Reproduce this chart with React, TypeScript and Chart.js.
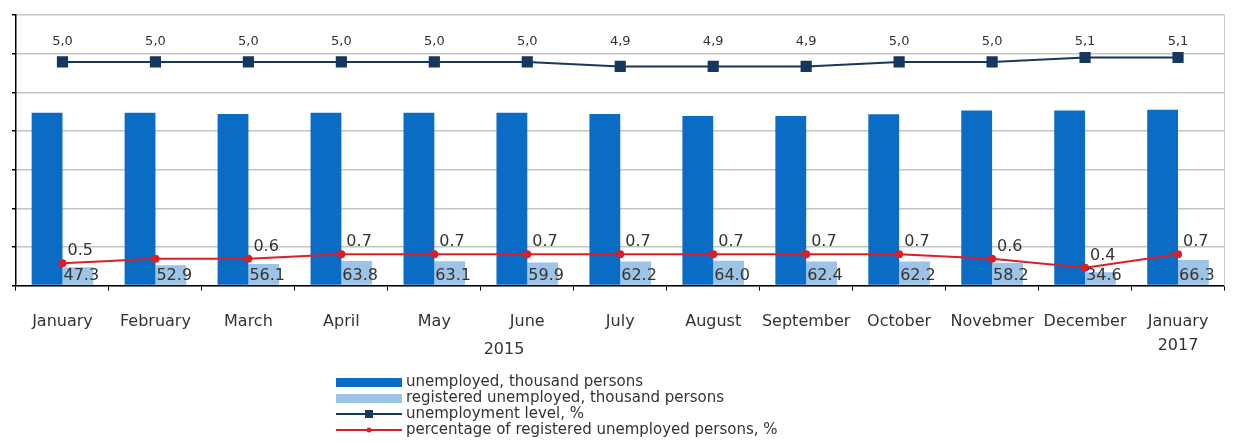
import React, { useEffect, useRef } from "react";
import { Chart, registerables } from "chart.js";

Chart.register(...registerables);

const categories: (string | string[])[] = [
  "January", "February", "March", "April", "May", "June", "July",
  "August", "September", "October", "Novebmer", "December", ["January", "2017"],
];
const yearLabel = "2015";

const unemployed = [447, 447, 444, 447, 447, 447, 444, 439, 439, 443, 453, 453, 455];
const registered = [47.3, 52.9, 56.1, 63.8, 63.1, 59.9, 62.2, 64.0, 62.4, 62.2, 58.2, 34.6, 66.3];
const unemploymentLevel = [5.0, 5.0, 5.0, 5.0, 5.0, 5.0, 4.9, 4.9, 4.9, 5.0, 5.0, 5.1, 5.1];
const registeredPct = [0.5, 0.6, 0.6, 0.7, 0.7, 0.7, 0.7, 0.7, 0.7, 0.7, 0.6, 0.4, 0.7];
const registeredPctHiddenLabels = [1];

const seriesNames = [
  "unemployed, thousand persons",
  "registered unemployed, thousand persons",
  "unemployment level, %",
  "percentage of registered unemployed persons, %",
];

const DARK = "#0A6CC4";
const LIGHT = "#9DC3E6";
const NAVY = "#17375E";
const RED = "#DC1E28";
const FONT = '"DejaVu Sans", Verdana, sans-serif';
const TEXT = "#333333";

const labelsPlugin = {
  id: "valueLabels",
  afterDatasetsDraw(chart: any) {
    const ctx = chart.ctx;
    ctx.save();
    ctx.fillStyle = TEXT;
    // registered bars labels
    const m1 = chart.getDatasetMeta(1);
    ctx.font = `16px ${FONT}`;
    ctx.textAlign = "left";
    ctx.textBaseline = "middle";
    m1.data.forEach((bar: any, i: number) => {
      const left = bar.x - bar.width / 2;
      ctx.fillText(registered[i].toFixed(1), left + 1, bar.base - 9.5);
    });
    // unemployment level labels (in a row above the line)
    const m2 = chart.getDatasetMeta(2);
    ctx.font = `13px ${FONT}`;
    ctx.textAlign = "center";
    const rowY = chart.chartArea.top + 27;
    m2.data.forEach((pt: any, i: number) => {
      ctx.fillText(unemploymentLevel[i].toFixed(1).replace(".", ","), pt.x, rowY);
    });
    // registered pct labels
    const m3 = chart.getDatasetMeta(3);
    ctx.font = `16px ${FONT}`;
    ctx.textAlign = "left";
    m3.data.forEach((pt: any, i: number) => {
      if (registeredPctHiddenLabels.includes(i)) return;
      ctx.fillText(registeredPct[i].toFixed(1), pt.x + 5, pt.y - 12);
    });
    ctx.restore();
  },
};

const extrasPlugin = {
  id: "extras",
  afterDraw(chart: any) {
    const ctx = chart.ctx;
    const xs = chart.scales.x;
    ctx.save();
    ctx.fillStyle = TEXT;
    ctx.font = `16px ${FONT}`;
    ctx.textAlign = "center";
    ctx.textBaseline = "middle";
    ctx.fillText(yearLabel, xs.getPixelForValue(4.75), 350);

    // legend
    ctx.font = `15px ${FONT}`;
    ctx.textAlign = "left";
    const x0 = 336;
    const x1 = 402;
    chart.data.datasets.forEach((ds: any, i: number) => {
      const y = 382 + i * 16;
      if (ds.type === "bar" || !ds.type) {
        ctx.fillStyle = ds.backgroundColor;
        ctx.fillRect(x0, y - 4, x1 - x0, 9);
      } else {
        ctx.strokeStyle = ds.borderColor;
        ctx.lineWidth = 2;
        ctx.beginPath();
        ctx.moveTo(x0, y);
        ctx.lineTo(x1, y);
        ctx.stroke();
        ctx.fillStyle = ds.pointBackgroundColor;
        const mx = (x0 + x1) / 2;
        if (ds.pointStyle === "rect") {
          ctx.fillRect(mx - 4, y - 4, 8, 8);
        } else {
          ctx.beginPath();
          ctx.arc(mx, y, 2.5, 0, Math.PI * 2);
          ctx.fill();
        }
      }
      ctx.fillStyle = TEXT;
      ctx.fillText(ds.label, 406, y);
    });
    ctx.restore();
  },
};

export default function App() {
  const ref = useRef<HTMLCanvasElement | null>(null);
  useEffect(() => {
    document.body.style.margin = "0";
    const canvas = ref.current;
    if (!canvas) return;
    const chart = new Chart(canvas, {
      type: "bar",
      data: {
        labels: categories,
        datasets: [
          {
            type: "bar",
            label: seriesNames[0],
            data: unemployed,
            backgroundColor: DARK,
            yAxisID: "y",
            order: 2,
          },
          {
            type: "bar",
            label: seriesNames[1],
            data: registered,
            backgroundColor: LIGHT,
            yAxisID: "y",
            order: 2,
          },
          {
            type: "line",
            label: seriesNames[2],
            data: unemploymentLevel,
            borderColor: NAVY,
            backgroundColor: NAVY,
            pointBackgroundColor: NAVY,
            pointBorderColor: NAVY,
            pointStyle: "rect",
            pointRadius: 6.5,
            borderWidth: 2,
            yAxisID: "y1",
            order: 1,
          },
          {
            type: "line",
            label: seriesNames[3],
            data: registeredPct,
            borderColor: RED,
            backgroundColor: RED,
            pointBackgroundColor: RED,
            pointBorderColor: RED,
            pointStyle: "circle",
            pointRadius: 3,
            borderWidth: 2,
            yAxisID: "y1",
            order: 0,
          },
        ] as any,
      },
      options: {
        responsive: false,
        animation: false,
        devicePixelRatio: 1,
        datasets: {
          bar: { categoryPercentage: 0.663, barPercentage: 1.0 },
        } as any,
        layout: { padding: { left: 12, right: 1, top: 15, bottom: 66 } },
        plugins: {
          legend: { display: false },
          tooltip: { enabled: false },
          title: { display: false },
        },
        scales: {
          x: {
            offset: true,
            grid: {
              display: true,
              drawOnChartArea: false,
              drawTicks: true,
              tickLength: 5,
              tickColor: "#000",
              offset: true,
            },
            border: { color: "#000", width: 1.5 },
            ticks: {
              color: TEXT,
              font: { family: FONT, size: 16, lineHeight: 1.45 },
              padding: 20,
              maxRotation: 0,
              autoSkip: false,
            },
          },
          y: {
            min: 0,
            max: 700,
            ticks: { display: false, stepSize: 100 },
            grid: {
              color: "#C4C4C4",
              tickColor: "#000",
              tickLength: 4,
              lineWidth: 1.5,
            },
            border: { color: "#000", width: 1.5 },
          },
          y1: {
            position: "right",
            min: 0,
            max: 6.05,
            ticks: { display: false },
            grid: { drawOnChartArea: false, drawTicks: false },
            border: { color: "#C8C8C8", width: 1 },
          },
        },
      } as any,
      plugins: [labelsPlugin, extrasPlugin],
    });
    return () => chart.destroy();
  }, []);
  return (
    <canvas
      ref={ref}
      width={1233}
      height={443}
      style={{ display: "block", width: 1233, height: 443 }}
    />
  );
}
